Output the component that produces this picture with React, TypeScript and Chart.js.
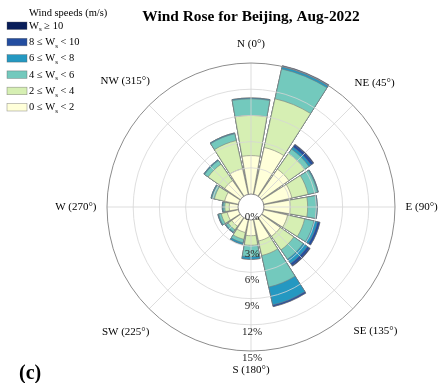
import React, { useEffect, useRef } from 'react';
import { Chart, registerables } from 'chart.js';

Chart.register(...registerables);

// 16 compass sectors, clockwise from North
const directions = ['N', 'NNE', 'NE', 'ENE', 'E', 'ESE', 'SE', 'SSE', 'S', 'SSW', 'SW', 'WSW', 'W', 'WNW', 'NW', 'NNW'];
const directionLabels = ['N (0°)', '', 'NE (45°)', '', 'E (90°)', '', 'SE (135°)', '', 'S (180°)', '', 'SW (225°)', '', 'W (270°)', '', 'NW (315°)', ''];
const radialTicks = [0, 3, 6, 9, 12, 15];

// Frequency (%) of each speed bin per direction
const ws0to2 = [4.4, 5.5, 3.8, 3.3, 3.0, 2.8, 2.6, 2.5, 1.8, 1.5, 1.2, 1.3, 1.0, 1.6, 2.2, 3.0];
const ws2to4 = [4.6, 5.7, 2.2, 1.9, 2.0, 2.0, 1.9, 1.7, 1.1, 0.8, 0.5, 0.7, 0.5, 1.2, 2.3, 3.3];
const ws4to6 = [1.9, 3.5, 0.6, 1.1, 1.0, 1.1, 1.3, 3.7, 1.3, 0.4, 0.3, 0.3, 0.2, 0.3, 0.5, 0.8];
const ws6to8 = [0.1, 0.25, 0.3, 0.1, 0.1, 0.4, 0.6, 2.1, 0.3, 0.2, 0.1, 0.1, 0.1, 0.1, 0.1, 0.1];
const ws8to10 = [0.0, 0.1, 0.3, 0.0, 0.0, 0.3, 0.3, 0.2, 0.0, 0.0, 0.0, 0.0, 0.0, 0.0, 0.0, 0.0];
const ws10plus = [0.0, 0.05, 0.1, 0.0, 0.0, 0.0, 0.1, 0.0, 0.0, 0.0, 0.0, 0.0, 0.0, 0.0, 0.0, 0.0];

const speedBins = [ws0to2, ws2to4, ws4to6, ws6to8, ws8to10, ws10plus];
const binColors = ['#ffffd9', '#d6efb3', '#73c9bd', '#2498c1', '#234da0', '#081d58'];
// legend text pieces: [before "W", after subscript]
const binLegend = [
  ['0 ≤ ', ' < 2'],
  ['2 ≤ ', ' < 4'],
  ['4 ≤ ', ' < 6'],
  ['6 ≤ ', ' < 8'],
  ['8 ≤ ', ' < 10'],
  ['', ' ≥ 10'],
];

const SERIF = '"Liberation Serif", "Times New Roman", serif';
const BAR_WIDTH = 20;
const GAP_WIDTH = 22.5 - BAR_WIDTH;

const windRosePlugin = {
  id: 'windRoseDecor',
  afterDatasetsDraw(chart: any) {
    const s = chart.scales.r;
    const ctx = chart.ctx;
    const r0 = s.getDistanceFromCenterForValue(0);
    const R = s.getDistanceFromCenterForValue(15);
    ctx.save();
    ctx.strokeStyle = '#d4d4d4';
    ctx.lineWidth = 0.8;
    for (let k = 0; k < 8; k++) {
      const a = (k * 45 * Math.PI) / 180;
      ctx.beginPath();
      ctx.moveTo(s.xCenter + r0 * Math.sin(a), s.yCenter - r0 * Math.cos(a));
      ctx.lineTo(s.xCenter + R * Math.sin(a), s.yCenter - R * Math.cos(a));
      ctx.stroke();
    }
    ctx.restore();
  },
  afterDraw(chart: any) {
    const s = chart.scales.r;
    const ctx = chart.ctx;
    const cx = s.xCenter;
    const cy = s.yCenter;
    const r0 = s.getDistanceFromCenterForValue(0);
    const R = s.getDistanceFromCenterForValue(15);
    ctx.save();
    // calm hole
    ctx.beginPath();
    ctx.arc(cx, cy, r0, 0, Math.PI * 2);
    ctx.fillStyle = '#ffffff';
    ctx.fill();
    ctx.strokeStyle = '#8a8a8a';
    ctx.lineWidth = 1;
    ctx.stroke();

    // radial tick labels along south
    ctx.fillStyle = '#262626';
    ctx.font = `11px ${SERIF}`;
    ctx.textAlign = 'center';
    ctx.textBaseline = 'middle';
    radialTicks.forEach((v) => {
      const r = s.getDistanceFromCenterForValue(v);
      const y = v === 0 ? cy + 10 : cy + r + 7.5;
      ctx.fillText(`${v}%`, cx + 1, y);
    });

    // direction labels
    ctx.fillStyle = '#000000';
    ctx.font = `11px ${SERIF}`;
    directionLabels.forEach((lab, i) => {
      if (!lab) return;
      const a = (i * 22.5 * Math.PI) / 180;
      const w = ctx.measureText(lab).width;
      const h = 14;
      const ext = Math.abs(Math.sin(a)) * w / 2 + Math.abs(Math.cos(a)) * h / 2;
      const d = R + 10.5 + 1.5 * Math.abs(Math.cos(a)) + ext;
      ctx.textAlign = 'center';
      ctx.textBaseline = 'middle';
      ctx.fillText(lab, cx + d * Math.sin(a), cy - d * Math.cos(a));
    });

    // title
    ctx.font = `bold 15.4px ${SERIF}`;
    ctx.textAlign = 'center';
    ctx.textBaseline = 'alphabetic';
    ctx.fillText('Wind Rose for Beijing, Aug-2022', cx, 21);

    // panel tag
    ctx.font = `bold 20px ${SERIF}`;
    ctx.textAlign = 'left';
    ctx.textBaseline = 'middle';
    ctx.fillText('(c)', 19, 374);

    // legend
    ctx.font = `10.5px ${SERIF}`;
    ctx.textAlign = 'left';
    ctx.textBaseline = 'middle';
    ctx.fillText('Wind speeds (m/s)', 29, 13);
    const rowsTop = 22;
    const step = 16.3;
    for (let j = 0; j < binColors.length; j++) {
      const k = binColors.length - 1 - j;
      const y = rowsTop + j * step;
      ctx.fillStyle = binColors[k];
      ctx.fillRect(7, y, 20, 7.5);
      ctx.strokeStyle = 'rgba(90,90,90,0.6)';
      ctx.lineWidth = 0.6;
      ctx.strokeRect(7, y, 20, 7.5);
      ctx.fillStyle = '#000000';
      let x = 29;
      const ym = y + 4;
      ctx.font = `10.5px ${SERIF}`;
      const [pre, post] = binLegend[k];
      ctx.fillText(pre + 'W', x, ym);
      x += ctx.measureText(pre + 'W').width;
      ctx.font = `7px ${SERIF}`;
      ctx.fillText('s', x, ym + 3.5);
      x += ctx.measureText('s').width;
      ctx.font = `10.5px ${SERIF}`;
      ctx.fillText(post, x, ym);
    }
    ctx.restore();
  },
};

export default function App() {
  const canvasRef = useRef<HTMLCanvasElement | null>(null);

  useEffect(() => {
    if (!canvasRef.current) return;
    const labels: string[] = [];
    directions.forEach((d) => {
      labels.push(d);
      labels.push('');
    });
    const datasets = speedBins.map((_, k) => {
      const data: number[] = [];
      directions.forEach((_, i) => {
        let cum = 0;
        for (let j = 0; j <= k; j++) cum += speedBins[j][i];
        data.push(cum);
        data.push(0);
      });
      return {
        label: binLegend[k].join('W'),
        data,
        backgroundColor: (c: any) => (c.dataIndex % 2 ? 'rgba(0,0,0,0)' : binColors[k]),
        borderColor: '#7a7a7a',
        borderWidth: (c: any) => (c.dataIndex % 2 ? 0 : 0.6),
        angle: (c: any) => (c.dataIndex % 2 ? GAP_WIDTH : BAR_WIDTH),
      };
    });

    const chart = new Chart(canvasRef.current, {
      type: 'polarArea',
      data: { labels, datasets },
      options: {
        responsive: false,
        animation: false,
        events: [],
        layout: { padding: { left: 107, right: 43, top: 63, bottom: 32 } },
        plugins: {
          legend: { display: false },
          title: { display: false },
          tooltip: { enabled: false },
        },
        scales: {
          r: {
            type: 'radialLinear',
            min: -1.4885,
            max: 15,
            startAngle: -BAR_WIDTH / 2,
            afterBuildTicks: (sc: any) => {
              sc.ticks = radialTicks.map((v) => ({ value: v }));
            },
            ticks: { display: false },
            grid: {
              circular: true,
              z: 1,
              color: (c: any) =>
                c.tick && c.tick.value === 15 ? '#8c8c8c' : c.tick && c.tick.value === 0 ? 'rgba(0,0,0,0)' : '#d6d6d6',
              lineWidth: (c: any) => (c.tick && c.tick.value === 15 ? 1 : 0.8),
            },
            angleLines: { display: false },
            pointLabels: { display: false },
          },
        },
      } as any,
      plugins: [windRosePlugin],
    });
    return () => chart.destroy();
  }, []);

  return (
    <div style={{ position: 'absolute', left: 0, top: 0, width: 438, height: 383, background: '#fff' }}>
      <canvas ref={canvasRef} width={438} height={383} />
    </div>
  );
}
